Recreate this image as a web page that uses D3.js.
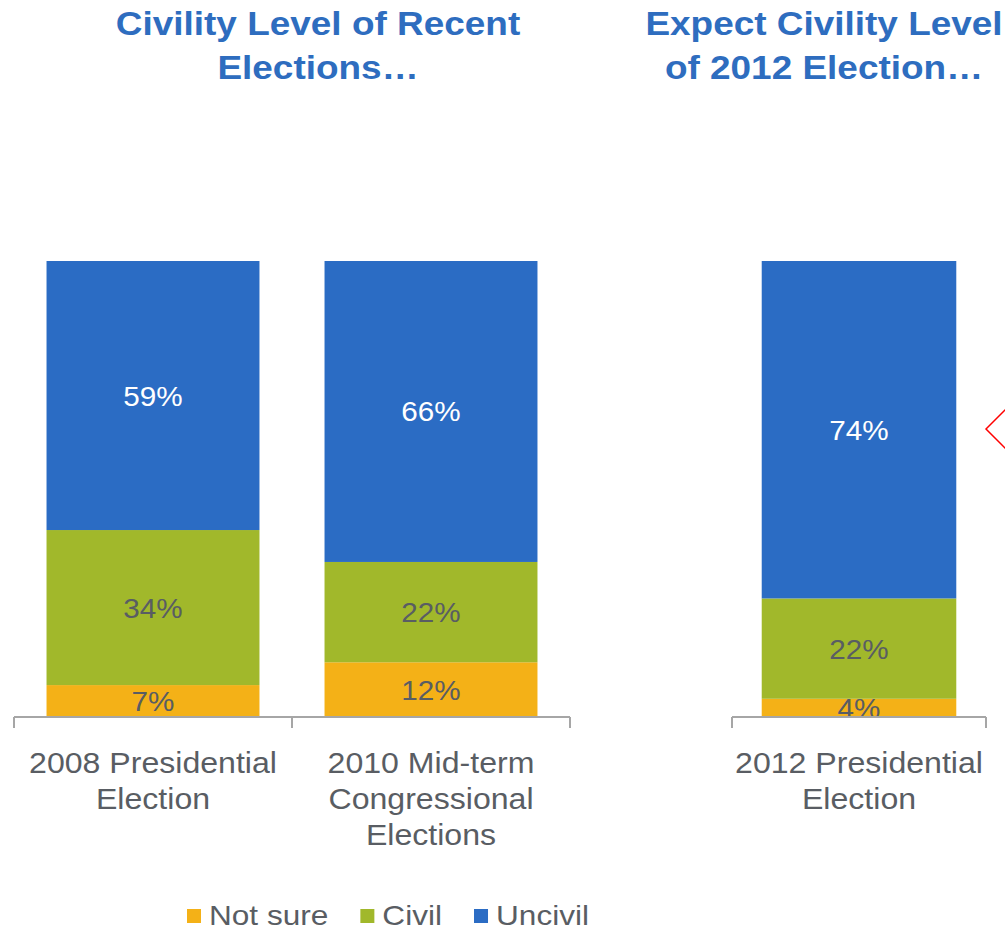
<!DOCTYPE html>
<html>
<head>
<meta charset="utf-8">
<script src="https://cdn.jsdelivr.net/npm/d3@7"></script>
<style>
  html, body { margin: 0; padding: 0; background: #fff; }
  svg { display: block; }
  text { font-family: "Liberation Sans", Arial, sans-serif; }
</style>
</head>
<body>
<svg id="chart" width="1005" height="931"></svg>
<script>
// ---- data ----
const seriesNames = ["Not sure", "Civil", "Uncivil"];
const seriesColors = ["#f4b117", "#a1b82b", "#2b6cc4"];
const labelColors = ["#595d63", "#595d63", "#ffffff"];

const leftCategories = ["2008 Presidential Election", "2010 Mid-term Congressional Elections"];
const leftCategoryLines = [["2008 Presidential", "Election"], ["2010 Mid-term", "Congressional", "Elections"]];
const leftNotSure = [7, 12];
const leftCivil = [34, 22];
const leftUncivil = [59, 66];

const rightCategories = ["2012 Presidential Election"];
const rightCategoryLines = [["2012 Presidential", "Election"]];
const rightNotSure = [4];
const rightCivil = [22];
const rightUncivil = [74];

const leftTitle = ["Civility Level of Recent", "Elections…"];
const rightTitle = ["Expect Civility Level", "of 2012 Election…"];

// ---- drawing ----
const svg = d3.select("#chart");
const gray = "#595d63";
const axisColor = "#a6a6a6";
const y = d3.scaleLinear().domain([0, 100]).range([717, 261]);

// helper: text with horizontal stretch
function stretchedText(g, x, yPos, str, size, sx, opts = {}) {
  return g.append("text")
    .attr("transform", `translate(${x},${yPos}) scale(${sx},1)`)
    .attr("text-anchor", opts.anchor || "middle")
    .attr("font-size", size)
    .attr("font-weight", opts.weight || "normal")
    .attr("fill", opts.fill || gray)
    .text(str);
}

function drawPanel(categories, lines, notSure, civil, uncivil, range) {
  const x = d3.scaleBand().domain(categories).range(range)
    .paddingInner(0.234).paddingOuter(0.117);
  const series = [notSure, civil, uncivil];
  const stackData = categories.map((c, i) => {
    const o = { cat: c };
    seriesNames.forEach((s, k) => o[s] = series[k][i]);
    return o;
  });
  const stacked = d3.stack().keys(seriesNames)(stackData);
  const g = svg.append("g");

  stacked.forEach((layer, k) => {
    g.selectAll(null).data(layer).enter().append("rect")
      .attr("x", d => x(d.data.cat))
      .attr("width", x.bandwidth())
      .attr("y", d => y(d[1]))
      .attr("height", d => y(d[0]) - y(d[1]))
      .attr("fill", seriesColors[k]);
  });
  stacked.forEach((layer, k) => {
    layer.forEach(d => {
      const cx = x(d.data.cat) + x.bandwidth() / 2;
      const cy = (y(d[0]) + y(d[1])) / 2 + 10;
      stretchedText(g, cx, cy, d.data[seriesNames[k]] + "%", 28, 1.06, { fill: labelColors[k] });
    });
  });

  // axis line and tick marks at category boundaries
  const step = x.step();
  const r0 = range[0];
  const boundaries = d3.range(categories.length + 1).map(i => r0 + i * step);
  g.append("line")
    .attr("x1", range[0]).attr("x2", range[1])
    .attr("y1", y(0)).attr("y2", y(0))
    .attr("stroke", axisColor).attr("stroke-width", 2);
  g.selectAll(null).data(boundaries).enter().append("line")
    .attr("x1", d => d).attr("x2", d => d)
    .attr("y1", y(0)).attr("y2", y(0) + 11)
    .attr("stroke", axisColor).attr("stroke-width", 2);

  // category labels
  categories.forEach((c, i) => {
    const cx = x(c) + x.bandwidth() / 2;
    lines[i].forEach((ln, j) => {
      stretchedText(g, cx, 773 + j * 36, ln, 30, 1.07);
    });
  });
}

drawPanel(leftCategories, leftCategoryLines, leftNotSure, leftCivil, leftUncivil, [14, 570]);
drawPanel(rightCategories, rightCategoryLines, rightNotSure, rightCivil, rightUncivil, [732, 986]);

// titles
const titleColor = "#2e6dbf";
leftTitle.forEach((t, j) => stretchedText(svg, 318, 35 + j * 44, t, 33, 1.12, { weight: "bold", fill: titleColor }));
rightTitle.forEach((t, j) => stretchedText(svg, 824, 35 + j * 44, t, 33, 1.12, { weight: "bold", fill: titleColor }));

// red callout shape at right edge
svg.append("polygon")
  .attr("points", [[986, 429], [1010, 405], [1034, 429], [1010, 453]].map(p => p.join(",")).join(" "))
  .attr("fill", "none").attr("stroke", "#ff0000").attr("stroke-width", 1.5);

// legend
const legend = svg.append("g");
let lx = 187;
seriesNames.forEach((s, k) => {
  legend.append("rect").attr("x", lx).attr("y", 909).attr("width", 14).attr("height", 14)
    .attr("fill", seriesColors[k]);
  const t = stretchedText(legend, lx + 22, 925, s, 27, 1.17, { anchor: "start" });
  const w = t.node().getComputedTextLength() * 1.17;
  lx += 22 + w + 32;
});
</script>
</body>
</html>
